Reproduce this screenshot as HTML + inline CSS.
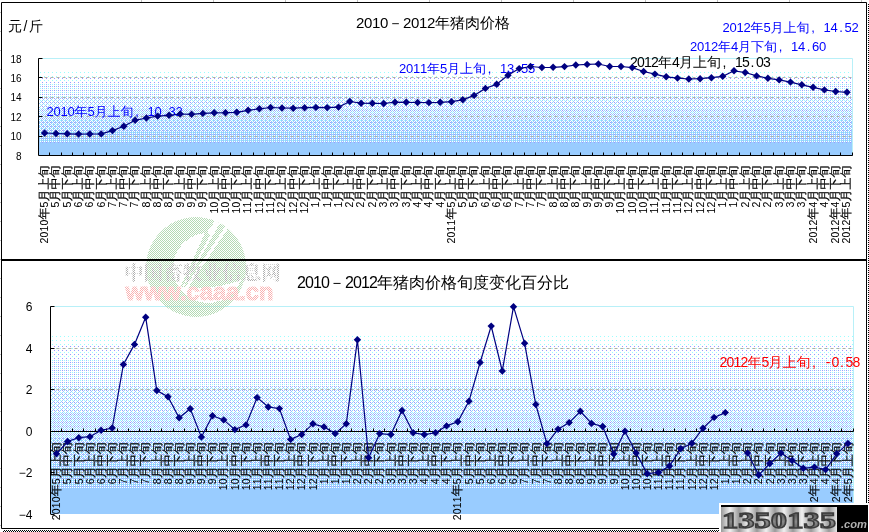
<!DOCTYPE html>
<html lang="zh"><head><meta charset="utf-8"><title>2010-2012年猪肉价格</title>
<style>html,body{margin:0;padding:0;background:#fff}svg{display:block}</style></head>
<body>
<svg width="869" height="532" viewBox="0 0 869 532" font-family='"Liberation Sans","WenQuanYi Zen Hei","Noto Sans CJK SC",sans-serif'>
<defs>
<pattern id="dz" width="2" height="2" patternUnits="userSpaceOnUse"><rect width="1" height="1" fill="#000"/><rect x="1" y="1" width="1" height="1" fill="#000"/></pattern>
<pattern id="b0" width="4" height="4" patternUnits="userSpaceOnUse"><rect x="0" y="0" width="1" height="1" fill="#99ccff"/><rect x="2" y="2" width="1" height="1" fill="#99ccff"/></pattern>
<pattern id="b1" width="4" height="4" patternUnits="userSpaceOnUse"><rect x="2" y="0" width="1" height="1" fill="#99ccff"/><rect x="0" y="2" width="1" height="1" fill="#99ccff"/></pattern>
<pattern id="b2" width="4" height="4" patternUnits="userSpaceOnUse"><rect x="1" y="1" width="1" height="1" fill="#99ccff"/><rect x="3" y="3" width="1" height="1" fill="#99ccff"/></pattern>
<pattern id="b3" width="4" height="4" patternUnits="userSpaceOnUse"><rect x="3" y="1" width="1" height="1" fill="#99ccff"/><rect x="1" y="3" width="1" height="1" fill="#99ccff"/></pattern>
<pattern id="b4" width="4" height="4" patternUnits="userSpaceOnUse"><rect x="1" y="0" width="1" height="1" fill="#99ccff"/><rect x="3" y="2" width="1" height="1" fill="#99ccff"/></pattern>
<pattern id="b5" width="4" height="4" patternUnits="userSpaceOnUse"><rect x="3" y="0" width="1" height="1" fill="#99ccff"/><rect x="1" y="2" width="1" height="1" fill="#99ccff"/></pattern>
<pattern id="b6" width="4" height="4" patternUnits="userSpaceOnUse"><rect x="0" y="1" width="1" height="1" fill="#99ccff"/><rect x="2" y="3" width="1" height="1" fill="#99ccff"/></pattern>
<pattern id="b7" width="4" height="4" patternUnits="userSpaceOnUse"><rect x="2" y="1" width="1" height="1" fill="#99ccff"/><rect x="0" y="3" width="1" height="1" fill="#99ccff"/></pattern>
<pattern id="b0a" width="4" height="4" patternUnits="userSpaceOnUse"><rect x="0" y="0" width="1" height="1" fill="#99ffff"/></pattern>
<pattern id="b0b" width="4" height="4" patternUnits="userSpaceOnUse"><rect x="2" y="2" width="1" height="1" fill="#9999ff"/></pattern>
<path id="mk" d="M0,-3.7 L3.7,0 L0,3.7 L-3.7,0 Z" fill="#000080"/>
</defs>
<rect width="869" height="532" fill="#fff"/>
<path d="M141.5 0v2M213.5 0v2M285.5 0v2M357.5 0v2M429.5 0v2M501.5 0v2M573.5 0v2M645.5 0v2M717.5 0v2M789.5 0v2M861.5 0v2M0 12.5h1M0 31.5h1M0 50.5h1M0 69.5h1M0 88.5h1M0 107.5h1M0 126.5h1M0 145.5h1M0 164.5h1M0 183.5h1M0 202.5h1M0 221.5h1M0 240.5h1M0 259.5h1M0 278.5h1M0 297.5h1M0 316.5h1M0 335.5h1M0 354.5h1M0 373.5h1M0 392.5h1M0 411.5h1M0 430.5h1M0 449.5h1M0 468.5h1M0 487.5h1M0 506.5h1M0 525.5h1" stroke="#c0c0c0" stroke-width="1" fill="none"/>
<g shape-rendering="crispEdges">
<rect x="39" y="59" width="814" height="97" fill="#fff"/>
<rect x="39" y="72" width="814" height="84" fill="url(#b0a)"/>
<rect x="39" y="77" width="814" height="79" fill="url(#b0b)"/>
<rect x="39" y="84" width="814" height="72" fill="url(#b1)"/>
<rect x="39" y="96" width="814" height="60" fill="url(#b2)"/>
<rect x="39" y="108" width="814" height="48" fill="url(#b3)"/>
<rect x="39" y="120" width="814" height="36" fill="url(#b4)"/>
<rect x="39" y="132" width="814" height="24" fill="url(#b5)"/>
<rect x="39" y="144" width="814" height="12" fill="url(#b6)"/>
<rect x="39" y="143" width="814" height="13" fill="#99ccff"/>
</g>
<line x1="38.5" x2="852.5" y1="136.5" y2="136.5" stroke="#b0b0a8" stroke-width="1" stroke-dasharray="3 3"/>
<line x1="38.5" x2="852.5" y1="116.5" y2="116.5" stroke="#b0b0a8" stroke-width="1" stroke-dasharray="3 3"/>
<line x1="38.5" x2="852.5" y1="97.5" y2="97.5" stroke="#b0b0a8" stroke-width="1" stroke-dasharray="3 3"/>
<line x1="38.5" x2="852.5" y1="77.5" y2="77.5" stroke="#b0b0a8" stroke-width="1" stroke-dasharray="3 3"/>
<path d="M38.5 58.5 H852.5 V155.5" fill="none" stroke="#b8f0f8" stroke-width="1"/>
<path d="M38.5 58.5 V155.5 H852.5" fill="none" stroke="#000" stroke-width="1"/>
<line x1="38.5" x2="42.5" y1="136.5" y2="136.5" stroke="#000"/>
<line x1="38.5" x2="42.5" y1="116.5" y2="116.5" stroke="#000"/>
<line x1="38.5" x2="42.5" y1="97.5" y2="97.5" stroke="#000"/>
<line x1="38.5" x2="42.5" y1="77.5" y2="77.5" stroke="#000"/>
<line x1="38.5" x2="42.5" y1="58.5" y2="58.5" stroke="#000"/>
<path d="M49.5 155.5v-3M61.5 155.5v-3M72.5 155.5v-3M83.5 155.5v-3M95.5 155.5v-3M106.5 155.5v-3M117.5 155.5v-3M128.5 155.5v-3M140.5 155.5v-3M151.5 155.5v-3M162.5 155.5v-3M174.5 155.5v-3M185.5 155.5v-3M196.5 155.5v-3M208.5 155.5v-3M219.5 155.5v-3M230.5 155.5v-3M241.5 155.5v-3M253.5 155.5v-3M264.5 155.5v-3M275.5 155.5v-3M287.5 155.5v-3M298.5 155.5v-3M309.5 155.5v-3M321.5 155.5v-3M332.5 155.5v-3M343.5 155.5v-3M354.5 155.5v-3M366.5 155.5v-3M377.5 155.5v-3M388.5 155.5v-3M400.5 155.5v-3M411.5 155.5v-3M422.5 155.5v-3M434.5 155.5v-3M445.5 155.5v-3M456.5 155.5v-3M467.5 155.5v-3M479.5 155.5v-3M490.5 155.5v-3M501.5 155.5v-3M513.5 155.5v-3M524.5 155.5v-3M535.5 155.5v-3M547.5 155.5v-3M558.5 155.5v-3M569.5 155.5v-3M580.5 155.5v-3M592.5 155.5v-3M603.5 155.5v-3M614.5 155.5v-3M626.5 155.5v-3M637.5 155.5v-3M648.5 155.5v-3M660.5 155.5v-3M671.5 155.5v-3M682.5 155.5v-3M693.5 155.5v-3M705.5 155.5v-3M716.5 155.5v-3M727.5 155.5v-3M739.5 155.5v-3M750.5 155.5v-3M761.5 155.5v-3M773.5 155.5v-3M784.5 155.5v-3M795.5 155.5v-3M806.5 155.5v-3M818.5 155.5v-3M829.5 155.5v-3M840.5 155.5v-3M852.5 155.5v-3" stroke="#000" stroke-width="1" fill="none"/>
<text x="21.6" y="159.5" font-size="10" text-anchor="end">8</text>
<text x="21.6" y="140.1" font-size="10" text-anchor="end">10</text>
<text x="21.6" y="120.7" font-size="10" text-anchor="end">12</text>
<text x="21.6" y="101.3" font-size="10" text-anchor="end">14</text>
<text x="21.6" y="81.9" font-size="10" text-anchor="end">16</text>
<text x="21.6" y="62.5" font-size="10" text-anchor="end">18</text>
<text transform="translate(43.9 165.4) rotate(-90)" x="-78 -72 -66 -60 -54 -42 -36 -24 -12" y="4.2" font-size="12" stroke="#000" stroke-width="0.2"><tspan font-size="10.5" stroke-width="0.05">2010</tspan>年<tspan font-size="10.5" stroke-width="0.05">5</tspan>月上旬</text>
<text transform="translate(55.2 165.4) rotate(-90)" x="-42 -36 -24 -12" y="4.2" font-size="12" stroke="#000" stroke-width="0.2"><tspan font-size="10.5" stroke-width="0.05">5</tspan>月中旬</text>
<text transform="translate(66.5 165.4) rotate(-90)" x="-42 -36 -24 -12" y="4.2" font-size="12" stroke="#000" stroke-width="0.2"><tspan font-size="10.5" stroke-width="0.05">5</tspan>月下旬</text>
<text transform="translate(77.8 165.4) rotate(-90)" x="-42 -36 -24 -12" y="4.2" font-size="12" stroke="#000" stroke-width="0.2"><tspan font-size="10.5" stroke-width="0.05">6</tspan>月上旬</text>
<text transform="translate(89.1 165.4) rotate(-90)" x="-42 -36 -24 -12" y="4.2" font-size="12" stroke="#000" stroke-width="0.2"><tspan font-size="10.5" stroke-width="0.05">6</tspan>月中旬</text>
<text transform="translate(100.4 165.4) rotate(-90)" x="-42 -36 -24 -12" y="4.2" font-size="12" stroke="#000" stroke-width="0.2"><tspan font-size="10.5" stroke-width="0.05">6</tspan>月下旬</text>
<text transform="translate(111.7 165.4) rotate(-90)" x="-42 -36 -24 -12" y="4.2" font-size="12" stroke="#000" stroke-width="0.2"><tspan font-size="10.5" stroke-width="0.05">7</tspan>月上旬</text>
<text transform="translate(123.0 165.4) rotate(-90)" x="-42 -36 -24 -12" y="4.2" font-size="12" stroke="#000" stroke-width="0.2"><tspan font-size="10.5" stroke-width="0.05">7</tspan>月中旬</text>
<text transform="translate(134.2 165.4) rotate(-90)" x="-42 -36 -24 -12" y="4.2" font-size="12" stroke="#000" stroke-width="0.2"><tspan font-size="10.5" stroke-width="0.05">7</tspan>月下旬</text>
<text transform="translate(145.6 165.4) rotate(-90)" x="-42 -36 -24 -12" y="4.2" font-size="12" stroke="#000" stroke-width="0.2"><tspan font-size="10.5" stroke-width="0.05">8</tspan>月上旬</text>
<text transform="translate(156.9 165.4) rotate(-90)" x="-42 -36 -24 -12" y="4.2" font-size="12" stroke="#000" stroke-width="0.2"><tspan font-size="10.5" stroke-width="0.05">8</tspan>月中旬</text>
<text transform="translate(168.2 165.4) rotate(-90)" x="-42 -36 -24 -12" y="4.2" font-size="12" stroke="#000" stroke-width="0.2"><tspan font-size="10.5" stroke-width="0.05">8</tspan>月下旬</text>
<text transform="translate(179.4 165.4) rotate(-90)" x="-42 -36 -24 -12" y="4.2" font-size="12" stroke="#000" stroke-width="0.2"><tspan font-size="10.5" stroke-width="0.05">9</tspan>月上旬</text>
<text transform="translate(190.8 165.4) rotate(-90)" x="-42 -36 -24 -12" y="4.2" font-size="12" stroke="#000" stroke-width="0.2"><tspan font-size="10.5" stroke-width="0.05">9</tspan>月中旬</text>
<text transform="translate(202.1 165.4) rotate(-90)" x="-42 -36 -24 -12" y="4.2" font-size="12" stroke="#000" stroke-width="0.2"><tspan font-size="10.5" stroke-width="0.05">9</tspan>月下旬</text>
<text transform="translate(213.4 165.4) rotate(-90)" x="-48 -42 -36 -24 -12" y="4.2" font-size="12" stroke="#000" stroke-width="0.2"><tspan font-size="10.5" stroke-width="0.05">10</tspan>月上旬</text>
<text transform="translate(224.7 165.4) rotate(-90)" x="-48 -42 -36 -24 -12" y="4.2" font-size="12" stroke="#000" stroke-width="0.2"><tspan font-size="10.5" stroke-width="0.05">10</tspan>月中旬</text>
<text transform="translate(235.9 165.4) rotate(-90)" x="-48 -42 -36 -24 -12" y="4.2" font-size="12" stroke="#000" stroke-width="0.2"><tspan font-size="10.5" stroke-width="0.05">10</tspan>月下旬</text>
<text transform="translate(247.2 165.4) rotate(-90)" x="-48 -42 -36 -24 -12" y="4.2" font-size="12" stroke="#000" stroke-width="0.2"><tspan font-size="10.5" stroke-width="0.05">11</tspan>月上旬</text>
<text transform="translate(258.6 165.4) rotate(-90)" x="-48 -42 -36 -24 -12" y="4.2" font-size="12" stroke="#000" stroke-width="0.2"><tspan font-size="10.5" stroke-width="0.05">11</tspan>月中旬</text>
<text transform="translate(269.9 165.4) rotate(-90)" x="-48 -42 -36 -24 -12" y="4.2" font-size="12" stroke="#000" stroke-width="0.2"><tspan font-size="10.5" stroke-width="0.05">11</tspan>月下旬</text>
<text transform="translate(281.2 165.4) rotate(-90)" x="-48 -42 -36 -24 -12" y="4.2" font-size="12" stroke="#000" stroke-width="0.2"><tspan font-size="10.5" stroke-width="0.05">12</tspan>月上旬</text>
<text transform="translate(292.5 165.4) rotate(-90)" x="-48 -42 -36 -24 -12" y="4.2" font-size="12" stroke="#000" stroke-width="0.2"><tspan font-size="10.5" stroke-width="0.05">12</tspan>月中旬</text>
<text transform="translate(303.8 165.4) rotate(-90)" x="-48 -42 -36 -24 -12" y="4.2" font-size="12" stroke="#000" stroke-width="0.2"><tspan font-size="10.5" stroke-width="0.05">12</tspan>月下旬</text>
<text transform="translate(315.1 165.4) rotate(-90)" x="-42 -36 -24 -12" y="4.2" font-size="12" stroke="#000" stroke-width="0.2"><tspan font-size="10.5" stroke-width="0.05">1</tspan>月上旬</text>
<text transform="translate(326.4 165.4) rotate(-90)" x="-42 -36 -24 -12" y="4.2" font-size="12" stroke="#000" stroke-width="0.2"><tspan font-size="10.5" stroke-width="0.05">1</tspan>月中旬</text>
<text transform="translate(337.7 165.4) rotate(-90)" x="-42 -36 -24 -12" y="4.2" font-size="12" stroke="#000" stroke-width="0.2"><tspan font-size="10.5" stroke-width="0.05">1</tspan>月下旬</text>
<text transform="translate(348.9 165.4) rotate(-90)" x="-42 -36 -24 -12" y="4.2" font-size="12" stroke="#000" stroke-width="0.2"><tspan font-size="10.5" stroke-width="0.05">2</tspan>月上旬</text>
<text transform="translate(360.2 165.4) rotate(-90)" x="-42 -36 -24 -12" y="4.2" font-size="12" stroke="#000" stroke-width="0.2"><tspan font-size="10.5" stroke-width="0.05">2</tspan>月中旬</text>
<text transform="translate(371.6 165.4) rotate(-90)" x="-42 -36 -24 -12" y="4.2" font-size="12" stroke="#000" stroke-width="0.2"><tspan font-size="10.5" stroke-width="0.05">2</tspan>月下旬</text>
<text transform="translate(382.9 165.4) rotate(-90)" x="-42 -36 -24 -12" y="4.2" font-size="12" stroke="#000" stroke-width="0.2"><tspan font-size="10.5" stroke-width="0.05">3</tspan>月上旬</text>
<text transform="translate(394.2 165.4) rotate(-90)" x="-42 -36 -24 -12" y="4.2" font-size="12" stroke="#000" stroke-width="0.2"><tspan font-size="10.5" stroke-width="0.05">3</tspan>月中旬</text>
<text transform="translate(405.4 165.4) rotate(-90)" x="-42 -36 -24 -12" y="4.2" font-size="12" stroke="#000" stroke-width="0.2"><tspan font-size="10.5" stroke-width="0.05">3</tspan>月下旬</text>
<text transform="translate(416.8 165.4) rotate(-90)" x="-42 -36 -24 -12" y="4.2" font-size="12" stroke="#000" stroke-width="0.2"><tspan font-size="10.5" stroke-width="0.05">4</tspan>月上旬</text>
<text transform="translate(428.1 165.4) rotate(-90)" x="-42 -36 -24 -12" y="4.2" font-size="12" stroke="#000" stroke-width="0.2"><tspan font-size="10.5" stroke-width="0.05">4</tspan>月中旬</text>
<text transform="translate(439.4 165.4) rotate(-90)" x="-42 -36 -24 -12" y="4.2" font-size="12" stroke="#000" stroke-width="0.2"><tspan font-size="10.5" stroke-width="0.05">4</tspan>月下旬</text>
<text transform="translate(450.7 165.4) rotate(-90)" x="-78 -72 -66 -60 -54 -42 -36 -24 -12" y="4.2" font-size="12" stroke="#000" stroke-width="0.2"><tspan font-size="10.5" stroke-width="0.05">2011</tspan>年<tspan font-size="10.5" stroke-width="0.05">5</tspan>月上旬</text>
<text transform="translate(461.9 165.4) rotate(-90)" x="-42 -36 -24 -12" y="4.2" font-size="12" stroke="#000" stroke-width="0.2"><tspan font-size="10.5" stroke-width="0.05">5</tspan>月中旬</text>
<text transform="translate(473.2 165.4) rotate(-90)" x="-42 -36 -24 -12" y="4.2" font-size="12" stroke="#000" stroke-width="0.2"><tspan font-size="10.5" stroke-width="0.05">5</tspan>月下旬</text>
<text transform="translate(484.6 165.4) rotate(-90)" x="-42 -36 -24 -12" y="4.2" font-size="12" stroke="#000" stroke-width="0.2"><tspan font-size="10.5" stroke-width="0.05">6</tspan>月上旬</text>
<text transform="translate(495.9 165.4) rotate(-90)" x="-42 -36 -24 -12" y="4.2" font-size="12" stroke="#000" stroke-width="0.2"><tspan font-size="10.5" stroke-width="0.05">6</tspan>月中旬</text>
<text transform="translate(507.2 165.4) rotate(-90)" x="-42 -36 -24 -12" y="4.2" font-size="12" stroke="#000" stroke-width="0.2"><tspan font-size="10.5" stroke-width="0.05">6</tspan>月下旬</text>
<text transform="translate(518.5 165.4) rotate(-90)" x="-42 -36 -24 -12" y="4.2" font-size="12" stroke="#000" stroke-width="0.2"><tspan font-size="10.5" stroke-width="0.05">7</tspan>月上旬</text>
<text transform="translate(529.8 165.4) rotate(-90)" x="-42 -36 -24 -12" y="4.2" font-size="12" stroke="#000" stroke-width="0.2"><tspan font-size="10.5" stroke-width="0.05">7</tspan>月中旬</text>
<text transform="translate(541.1 165.4) rotate(-90)" x="-42 -36 -24 -12" y="4.2" font-size="12" stroke="#000" stroke-width="0.2"><tspan font-size="10.5" stroke-width="0.05">7</tspan>月下旬</text>
<text transform="translate(552.4 165.4) rotate(-90)" x="-42 -36 -24 -12" y="4.2" font-size="12" stroke="#000" stroke-width="0.2"><tspan font-size="10.5" stroke-width="0.05">8</tspan>月上旬</text>
<text transform="translate(563.7 165.4) rotate(-90)" x="-42 -36 -24 -12" y="4.2" font-size="12" stroke="#000" stroke-width="0.2"><tspan font-size="10.5" stroke-width="0.05">8</tspan>月中旬</text>
<text transform="translate(575.0 165.4) rotate(-90)" x="-42 -36 -24 -12" y="4.2" font-size="12" stroke="#000" stroke-width="0.2"><tspan font-size="10.5" stroke-width="0.05">8</tspan>月下旬</text>
<text transform="translate(586.3 165.4) rotate(-90)" x="-42 -36 -24 -12" y="4.2" font-size="12" stroke="#000" stroke-width="0.2"><tspan font-size="10.5" stroke-width="0.05">9</tspan>月上旬</text>
<text transform="translate(597.6 165.4) rotate(-90)" x="-42 -36 -24 -12" y="4.2" font-size="12" stroke="#000" stroke-width="0.2"><tspan font-size="10.5" stroke-width="0.05">9</tspan>月中旬</text>
<text transform="translate(608.9 165.4) rotate(-90)" x="-42 -36 -24 -12" y="4.2" font-size="12" stroke="#000" stroke-width="0.2"><tspan font-size="10.5" stroke-width="0.05">9</tspan>月下旬</text>
<text transform="translate(620.2 165.4) rotate(-90)" x="-48 -42 -36 -24 -12" y="4.2" font-size="12" stroke="#000" stroke-width="0.2"><tspan font-size="10.5" stroke-width="0.05">10</tspan>月上旬</text>
<text transform="translate(631.5 165.4) rotate(-90)" x="-48 -42 -36 -24 -12" y="4.2" font-size="12" stroke="#000" stroke-width="0.2"><tspan font-size="10.5" stroke-width="0.05">10</tspan>月中旬</text>
<text transform="translate(642.8 165.4) rotate(-90)" x="-48 -42 -36 -24 -12" y="4.2" font-size="12" stroke="#000" stroke-width="0.2"><tspan font-size="10.5" stroke-width="0.05">10</tspan>月下旬</text>
<text transform="translate(654.1 165.4) rotate(-90)" x="-48 -42 -36 -24 -12" y="4.2" font-size="12" stroke="#000" stroke-width="0.2"><tspan font-size="10.5" stroke-width="0.05">11</tspan>月上旬</text>
<text transform="translate(665.4 165.4) rotate(-90)" x="-48 -42 -36 -24 -12" y="4.2" font-size="12" stroke="#000" stroke-width="0.2"><tspan font-size="10.5" stroke-width="0.05">11</tspan>月中旬</text>
<text transform="translate(676.7 165.4) rotate(-90)" x="-48 -42 -36 -24 -12" y="4.2" font-size="12" stroke="#000" stroke-width="0.2"><tspan font-size="10.5" stroke-width="0.05">11</tspan>月下旬</text>
<text transform="translate(688.0 165.4) rotate(-90)" x="-48 -42 -36 -24 -12" y="4.2" font-size="12" stroke="#000" stroke-width="0.2"><tspan font-size="10.5" stroke-width="0.05">12</tspan>月上旬</text>
<text transform="translate(699.3 165.4) rotate(-90)" x="-48 -42 -36 -24 -12" y="4.2" font-size="12" stroke="#000" stroke-width="0.2"><tspan font-size="10.5" stroke-width="0.05">12</tspan>月中旬</text>
<text transform="translate(710.6 165.4) rotate(-90)" x="-48 -42 -36 -24 -12" y="4.2" font-size="12" stroke="#000" stroke-width="0.2"><tspan font-size="10.5" stroke-width="0.05">12</tspan>月下旬</text>
<text transform="translate(721.9 165.4) rotate(-90)" x="-42 -36 -24 -12" y="4.2" font-size="12" stroke="#000" stroke-width="0.2"><tspan font-size="10.5" stroke-width="0.05">1</tspan>月上旬</text>
<text transform="translate(733.2 165.4) rotate(-90)" x="-42 -36 -24 -12" y="4.2" font-size="12" stroke="#000" stroke-width="0.2"><tspan font-size="10.5" stroke-width="0.05">1</tspan>月中旬</text>
<text transform="translate(744.5 165.4) rotate(-90)" x="-42 -36 -24 -12" y="4.2" font-size="12" stroke="#000" stroke-width="0.2"><tspan font-size="10.5" stroke-width="0.05">2</tspan>月上旬</text>
<text transform="translate(755.8 165.4) rotate(-90)" x="-42 -36 -24 -12" y="4.2" font-size="12" stroke="#000" stroke-width="0.2"><tspan font-size="10.5" stroke-width="0.05">2</tspan>月中旬</text>
<text transform="translate(767.1 165.4) rotate(-90)" x="-42 -36 -24 -12" y="4.2" font-size="12" stroke="#000" stroke-width="0.2"><tspan font-size="10.5" stroke-width="0.05">2</tspan>月下旬</text>
<text transform="translate(778.4 165.4) rotate(-90)" x="-42 -36 -24 -12" y="4.2" font-size="12" stroke="#000" stroke-width="0.2"><tspan font-size="10.5" stroke-width="0.05">3</tspan>月上旬</text>
<text transform="translate(789.7 165.4) rotate(-90)" x="-42 -36 -24 -12" y="4.2" font-size="12" stroke="#000" stroke-width="0.2"><tspan font-size="10.5" stroke-width="0.05">3</tspan>月中旬</text>
<text transform="translate(801.0 165.4) rotate(-90)" x="-42 -36 -24 -12" y="4.2" font-size="12" stroke="#000" stroke-width="0.2"><tspan font-size="10.5" stroke-width="0.05">3</tspan>月下旬</text>
<text transform="translate(812.3 165.4) rotate(-90)" x="-78 -72 -66 -60 -54 -42 -36 -24 -12" y="4.2" font-size="12" stroke="#000" stroke-width="0.2"><tspan font-size="10.5" stroke-width="0.05">2012</tspan>年<tspan font-size="10.5" stroke-width="0.05">4</tspan>月上旬</text>
<text transform="translate(823.6 165.4) rotate(-90)" x="-42 -36 -24 -12" y="4.2" font-size="12" stroke="#000" stroke-width="0.2"><tspan font-size="10.5" stroke-width="0.05">4</tspan>月中旬</text>
<text transform="translate(834.9 165.4) rotate(-90)" x="-78 -72 -66 -60 -54 -42 -36 -24 -12" y="4.2" font-size="12" stroke="#000" stroke-width="0.2"><tspan font-size="10.5" stroke-width="0.05">2012</tspan>年<tspan font-size="10.5" stroke-width="0.05">4</tspan>月下旬</text>
<text transform="translate(846.2 165.4) rotate(-90)" x="-78 -72 -66 -60 -54 -42 -36 -24 -12" y="4.2" font-size="12" stroke="#000" stroke-width="0.2"><tspan font-size="10.5" stroke-width="0.05">2012</tspan>年<tspan font-size="10.5" stroke-width="0.05">5</tspan>月上旬</text>
<text x="8.0 23.6 29.0" y="31.0" font-size="14" fill="#000">元/斤</text>
<text x="356.0 364.0 372.0 380.0 388.0 403.0 411.0 419.0 427.0 435.0 450.0 465.0 480.0 495.0" y="28.0" font-size="15" fill="#000">2010－2012年猪肉价格</text>
<text x="46.5 53.5 60.5 67.5 74.5 87.5 94.5 107.5 120.5 135.2 142.2 147.5 154.5 163.2 168.5 175.5" y="115.5" font-size="13" fill="#0000ff">2010年5月上旬, 10.32</text>
<text x="399.0 406.0 413.0 420.0 427.0 440.0 447.0 460.0 473.0 487.7 494.7 500.0 507.0 515.7 521.0 528.0" y="72.5" font-size="13" fill="#0000ff">2011年5月上旬, 13.55</text>
<text x="630.0 637.0 644.0 651.0 658.0 672.0 679.0 693.0 707.0 722.6 729.6 735.0 742.0 750.6 756.0 763.0" y="67.0" font-size="14" fill="#000">2012年4月上旬, 15.03</text>
<text x="690.0 697.0 704.0 711.0 718.0 731.0 738.0 751.0 764.0 778.7 785.7 791.0 798.0 806.7 812.0 819.0" y="50.5" font-size="13" fill="#0000ff">2012年4月下旬, 14.60</text>
<text x="722.5 729.5 736.5 743.5 750.5 763.5 770.5 783.5 796.5 811.2 818.2 823.5 830.5 839.2 844.5 851.5" y="31.8" font-size="13" fill="#0000ff">2012年5月上旬, 14.52</text>
<polyline fill="none" stroke="#000080" stroke-width="1.2" points="44.6,133.0 56.0,133.5 67.2,133.8 78.6,134.1 89.8,134.0 101.2,133.9 112.5,130.6 123.8,126.2 135.1,120.3 146.4,118.0 157.7,116.1 169.0,115.3 180.2,114.0 191.6,114.3 202.9,113.4 214.2,112.8 225.5,112.7 236.8,112.3 248.1,110.3 259.4,108.8 270.6,107.5 282.0,108.0 293.2,108.2 304.6,107.7 315.9,107.4 327.2,107.6 338.5,107.1 349.8,101.5 361.1,103.2 372.4,103.3 383.7,103.5 395.0,102.2 406.2,102.3 417.6,102.5 428.9,102.6 440.2,102.3 451.5,101.7 462.8,99.8 474.1,95.4 485.4,88.4 496.7,84.2 508.0,75.3 519.2,68.6 530.5,66.5 541.9,67.5 553.1,67.3 564.5,66.6 575.8,65.0 587.1,64.4 598.4,64.0 609.7,66.5 621.0,66.5 632.2,67.6 643.6,71.5 654.9,74.1 666.2,76.8 677.5,78.1 688.8,79.0 700.1,78.7 711.4,77.7 722.7,76.3 734.0,70.8 745.2,72.5 756.6,75.9 767.9,78.3 779.2,79.9 790.5,82.1 801.8,84.8 813.1,87.3 824.4,89.9 835.7,91.5 847.0,92.3"/>
<use href="#mk" x="44.6" y="133.0"/>
<use href="#mk" x="56.0" y="133.5"/>
<use href="#mk" x="67.2" y="133.8"/>
<use href="#mk" x="78.6" y="134.1"/>
<use href="#mk" x="89.8" y="134.0"/>
<use href="#mk" x="101.2" y="133.9"/>
<use href="#mk" x="112.5" y="130.6"/>
<use href="#mk" x="123.8" y="126.2"/>
<use href="#mk" x="135.1" y="120.3"/>
<use href="#mk" x="146.4" y="118.0"/>
<use href="#mk" x="157.7" y="116.1"/>
<use href="#mk" x="169.0" y="115.3"/>
<use href="#mk" x="180.2" y="114.0"/>
<use href="#mk" x="191.6" y="114.3"/>
<use href="#mk" x="202.9" y="113.4"/>
<use href="#mk" x="214.2" y="112.8"/>
<use href="#mk" x="225.5" y="112.7"/>
<use href="#mk" x="236.8" y="112.3"/>
<use href="#mk" x="248.1" y="110.3"/>
<use href="#mk" x="259.4" y="108.8"/>
<use href="#mk" x="270.6" y="107.5"/>
<use href="#mk" x="282.0" y="108.0"/>
<use href="#mk" x="293.2" y="108.2"/>
<use href="#mk" x="304.6" y="107.7"/>
<use href="#mk" x="315.9" y="107.4"/>
<use href="#mk" x="327.2" y="107.6"/>
<use href="#mk" x="338.5" y="107.1"/>
<use href="#mk" x="349.8" y="101.5"/>
<use href="#mk" x="361.1" y="103.2"/>
<use href="#mk" x="372.4" y="103.3"/>
<use href="#mk" x="383.7" y="103.5"/>
<use href="#mk" x="395.0" y="102.2"/>
<use href="#mk" x="406.2" y="102.3"/>
<use href="#mk" x="417.6" y="102.5"/>
<use href="#mk" x="428.9" y="102.6"/>
<use href="#mk" x="440.2" y="102.3"/>
<use href="#mk" x="451.5" y="101.7"/>
<use href="#mk" x="462.8" y="99.8"/>
<use href="#mk" x="474.1" y="95.4"/>
<use href="#mk" x="485.4" y="88.4"/>
<use href="#mk" x="496.7" y="84.2"/>
<use href="#mk" x="508.0" y="75.3"/>
<use href="#mk" x="519.2" y="68.6"/>
<use href="#mk" x="530.5" y="66.5"/>
<use href="#mk" x="541.9" y="67.5"/>
<use href="#mk" x="553.1" y="67.3"/>
<use href="#mk" x="564.5" y="66.6"/>
<use href="#mk" x="575.8" y="65.0"/>
<use href="#mk" x="587.1" y="64.4"/>
<use href="#mk" x="598.4" y="64.0"/>
<use href="#mk" x="609.7" y="66.5"/>
<use href="#mk" x="621.0" y="66.5"/>
<use href="#mk" x="632.2" y="67.6"/>
<use href="#mk" x="643.6" y="71.5"/>
<use href="#mk" x="654.9" y="74.1"/>
<use href="#mk" x="666.2" y="76.8"/>
<use href="#mk" x="677.5" y="78.1"/>
<use href="#mk" x="688.8" y="79.0"/>
<use href="#mk" x="700.1" y="78.7"/>
<use href="#mk" x="711.4" y="77.7"/>
<use href="#mk" x="722.7" y="76.3"/>
<use href="#mk" x="734.0" y="70.8"/>
<use href="#mk" x="745.2" y="72.5"/>
<use href="#mk" x="756.6" y="75.9"/>
<use href="#mk" x="767.9" y="78.3"/>
<use href="#mk" x="779.2" y="79.9"/>
<use href="#mk" x="790.5" y="82.1"/>
<use href="#mk" x="801.8" y="84.8"/>
<use href="#mk" x="813.1" y="87.3"/>
<use href="#mk" x="824.4" y="89.9"/>
<use href="#mk" x="835.7" y="91.5"/>
<use href="#mk" x="847.0" y="92.3"/>
<g shape-rendering="crispEdges">
<rect x="51" y="307" width="803" height="207" fill="#fff"/>
<rect x="51" y="336" width="803" height="178" fill="url(#b0a)"/>
<rect x="51" y="346" width="803" height="168" fill="url(#b0b)"/>
<rect x="51" y="360" width="803" height="154" fill="url(#b1)"/>
<rect x="51" y="386" width="803" height="128" fill="url(#b2)"/>
<rect x="51" y="412" width="803" height="102" fill="url(#b3)"/>
<rect x="51" y="438" width="803" height="76" fill="url(#b4)"/>
<rect x="51" y="464" width="803" height="50" fill="url(#b5)"/>
<rect x="51" y="490" width="803" height="24" fill="url(#b6)"/>
<rect x="51" y="488" width="803" height="26" fill="#99ccff"/>
</g>
<line x1="50.5" x2="853.5" y1="472.5" y2="472.5" stroke="#b0b0a8" stroke-width="1" stroke-dasharray="3 3"/>
<line x1="50.5" x2="853.5" y1="389.5" y2="389.5" stroke="#b0b0a8" stroke-width="1" stroke-dasharray="3 3"/>
<line x1="50.5" x2="853.5" y1="348.5" y2="348.5" stroke="#b0b0a8" stroke-width="1" stroke-dasharray="3 3"/>
<path d="M50.5 306.5 H853.5 V514.0" fill="none" stroke="#b8f0f8" stroke-width="1"/>
<path d="M50.5 306.5 V514.0" fill="none" stroke="#000" stroke-width="1"/>
<line x1="50.5" x2="54.5" y1="514.5" y2="514.5" stroke="#000"/>
<line x1="50.5" x2="54.5" y1="472.5" y2="472.5" stroke="#000"/>
<line x1="50.5" x2="54.5" y1="389.5" y2="389.5" stroke="#000"/>
<line x1="50.5" x2="54.5" y1="348.5" y2="348.5" stroke="#000"/>
<line x1="50.5" x2="54.5" y1="306.5" y2="306.5" stroke="#000"/>
<line x1="50.5" x2="853.5" y1="431.5" y2="431.5" stroke="#000"/>
<path d="M61.5 431.5v-3M72.5 431.5v-3M83.5 431.5v-3M95.5 431.5v-3M106.5 431.5v-3M117.5 431.5v-3M128.5 431.5v-3M139.5 431.5v-3M150.5 431.5v-3M161.5 431.5v-3M173.5 431.5v-3M184.5 431.5v-3M195.5 431.5v-3M206.5 431.5v-3M217.5 431.5v-3M228.5 431.5v-3M239.5 431.5v-3M251.5 431.5v-3M262.5 431.5v-3M273.5 431.5v-3M284.5 431.5v-3M295.5 431.5v-3M306.5 431.5v-3M318.5 431.5v-3M329.5 431.5v-3M340.5 431.5v-3M351.5 431.5v-3M362.5 431.5v-3M373.5 431.5v-3M384.5 431.5v-3M396.5 431.5v-3M407.5 431.5v-3M418.5 431.5v-3M429.5 431.5v-3M440.5 431.5v-3M451.5 431.5v-3M462.5 431.5v-3M474.5 431.5v-3M485.5 431.5v-3M496.5 431.5v-3M507.5 431.5v-3M518.5 431.5v-3M529.5 431.5v-3M540.5 431.5v-3M552.5 431.5v-3M563.5 431.5v-3M574.5 431.5v-3M585.5 431.5v-3M596.5 431.5v-3M607.5 431.5v-3M618.5 431.5v-3M630.5 431.5v-3M641.5 431.5v-3M652.5 431.5v-3M663.5 431.5v-3M674.5 431.5v-3M685.5 431.5v-3M696.5 431.5v-3M708.5 431.5v-3M719.5 431.5v-3M730.5 431.5v-3M741.5 431.5v-3M752.5 431.5v-3M763.5 431.5v-3M774.5 431.5v-3M786.5 431.5v-3M797.5 431.5v-3M808.5 431.5v-3M819.5 431.5v-3M830.5 431.5v-3M841.5 431.5v-3M853.5 431.5v-3" stroke="#000" stroke-width="1" fill="none"/>
<text x="32.5" y="519.0" font-size="12" text-anchor="end">−4</text>
<text x="32.5" y="477.4" font-size="12" text-anchor="end">−2</text>
<text x="32.5" y="435.8" font-size="12" text-anchor="end">0</text>
<text x="32.5" y="394.2" font-size="12" text-anchor="end">2</text>
<text x="32.5" y="352.6" font-size="12" text-anchor="end">4</text>
<text x="32.5" y="311.0" font-size="12" text-anchor="end">6</text>
<text transform="translate(56.0 442.2) rotate(-90)" x="-78 -72 -66 -60 -54 -42 -36 -24 -12" y="4.2" font-size="12" stroke="#000" stroke-width="0.2"><tspan font-size="10.5" stroke-width="0.05">2010</tspan>年<tspan font-size="10.5" stroke-width="0.05">5</tspan>月上旬</text>
<text transform="translate(67.1 442.2) rotate(-90)" x="-42 -36 -24 -12" y="4.2" font-size="12" stroke="#000" stroke-width="0.2"><tspan font-size="10.5" stroke-width="0.05">5</tspan>月中旬</text>
<text transform="translate(78.3 442.2) rotate(-90)" x="-42 -36 -24 -12" y="4.2" font-size="12" stroke="#000" stroke-width="0.2"><tspan font-size="10.5" stroke-width="0.05">5</tspan>月下旬</text>
<text transform="translate(89.4 442.2) rotate(-90)" x="-42 -36 -24 -12" y="4.2" font-size="12" stroke="#000" stroke-width="0.2"><tspan font-size="10.5" stroke-width="0.05">6</tspan>月上旬</text>
<text transform="translate(100.6 442.2) rotate(-90)" x="-42 -36 -24 -12" y="4.2" font-size="12" stroke="#000" stroke-width="0.2"><tspan font-size="10.5" stroke-width="0.05">6</tspan>月中旬</text>
<text transform="translate(111.7 442.2) rotate(-90)" x="-42 -36 -24 -12" y="4.2" font-size="12" stroke="#000" stroke-width="0.2"><tspan font-size="10.5" stroke-width="0.05">6</tspan>月下旬</text>
<text transform="translate(122.8 442.2) rotate(-90)" x="-42 -36 -24 -12" y="4.2" font-size="12" stroke="#000" stroke-width="0.2"><tspan font-size="10.5" stroke-width="0.05">7</tspan>月上旬</text>
<text transform="translate(134.0 442.2) rotate(-90)" x="-42 -36 -24 -12" y="4.2" font-size="12" stroke="#000" stroke-width="0.2"><tspan font-size="10.5" stroke-width="0.05">7</tspan>月中旬</text>
<text transform="translate(145.1 442.2) rotate(-90)" x="-42 -36 -24 -12" y="4.2" font-size="12" stroke="#000" stroke-width="0.2"><tspan font-size="10.5" stroke-width="0.05">7</tspan>月下旬</text>
<text transform="translate(156.3 442.2) rotate(-90)" x="-42 -36 -24 -12" y="4.2" font-size="12" stroke="#000" stroke-width="0.2"><tspan font-size="10.5" stroke-width="0.05">8</tspan>月上旬</text>
<text transform="translate(167.4 442.2) rotate(-90)" x="-42 -36 -24 -12" y="4.2" font-size="12" stroke="#000" stroke-width="0.2"><tspan font-size="10.5" stroke-width="0.05">8</tspan>月中旬</text>
<text transform="translate(178.6 442.2) rotate(-90)" x="-42 -36 -24 -12" y="4.2" font-size="12" stroke="#000" stroke-width="0.2"><tspan font-size="10.5" stroke-width="0.05">8</tspan>月下旬</text>
<text transform="translate(189.7 442.2) rotate(-90)" x="-42 -36 -24 -12" y="4.2" font-size="12" stroke="#000" stroke-width="0.2"><tspan font-size="10.5" stroke-width="0.05">9</tspan>月上旬</text>
<text transform="translate(200.9 442.2) rotate(-90)" x="-42 -36 -24 -12" y="4.2" font-size="12" stroke="#000" stroke-width="0.2"><tspan font-size="10.5" stroke-width="0.05">9</tspan>月中旬</text>
<text transform="translate(212.0 442.2) rotate(-90)" x="-42 -36 -24 -12" y="4.2" font-size="12" stroke="#000" stroke-width="0.2"><tspan font-size="10.5" stroke-width="0.05">9</tspan>月下旬</text>
<text transform="translate(223.2 442.2) rotate(-90)" x="-48 -42 -36 -24 -12" y="4.2" font-size="12" stroke="#000" stroke-width="0.2"><tspan font-size="10.5" stroke-width="0.05">10</tspan>月上旬</text>
<text transform="translate(234.3 442.2) rotate(-90)" x="-48 -42 -36 -24 -12" y="4.2" font-size="12" stroke="#000" stroke-width="0.2"><tspan font-size="10.5" stroke-width="0.05">10</tspan>月中旬</text>
<text transform="translate(245.5 442.2) rotate(-90)" x="-48 -42 -36 -24 -12" y="4.2" font-size="12" stroke="#000" stroke-width="0.2"><tspan font-size="10.5" stroke-width="0.05">10</tspan>月下旬</text>
<text transform="translate(256.6 442.2) rotate(-90)" x="-48 -42 -36 -24 -12" y="4.2" font-size="12" stroke="#000" stroke-width="0.2"><tspan font-size="10.5" stroke-width="0.05">11</tspan>月上旬</text>
<text transform="translate(267.7 442.2) rotate(-90)" x="-48 -42 -36 -24 -12" y="4.2" font-size="12" stroke="#000" stroke-width="0.2"><tspan font-size="10.5" stroke-width="0.05">11</tspan>月中旬</text>
<text transform="translate(278.9 442.2) rotate(-90)" x="-48 -42 -36 -24 -12" y="4.2" font-size="12" stroke="#000" stroke-width="0.2"><tspan font-size="10.5" stroke-width="0.05">11</tspan>月下旬</text>
<text transform="translate(290.0 442.2) rotate(-90)" x="-48 -42 -36 -24 -12" y="4.2" font-size="12" stroke="#000" stroke-width="0.2"><tspan font-size="10.5" stroke-width="0.05">12</tspan>月上旬</text>
<text transform="translate(301.2 442.2) rotate(-90)" x="-48 -42 -36 -24 -12" y="4.2" font-size="12" stroke="#000" stroke-width="0.2"><tspan font-size="10.5" stroke-width="0.05">12</tspan>月中旬</text>
<text transform="translate(312.3 442.2) rotate(-90)" x="-48 -42 -36 -24 -12" y="4.2" font-size="12" stroke="#000" stroke-width="0.2"><tspan font-size="10.5" stroke-width="0.05">12</tspan>月下旬</text>
<text transform="translate(323.5 442.2) rotate(-90)" x="-42 -36 -24 -12" y="4.2" font-size="12" stroke="#000" stroke-width="0.2"><tspan font-size="10.5" stroke-width="0.05">1</tspan>月上旬</text>
<text transform="translate(334.6 442.2) rotate(-90)" x="-42 -36 -24 -12" y="4.2" font-size="12" stroke="#000" stroke-width="0.2"><tspan font-size="10.5" stroke-width="0.05">1</tspan>月中旬</text>
<text transform="translate(345.8 442.2) rotate(-90)" x="-42 -36 -24 -12" y="4.2" font-size="12" stroke="#000" stroke-width="0.2"><tspan font-size="10.5" stroke-width="0.05">1</tspan>月下旬</text>
<text transform="translate(356.9 442.2) rotate(-90)" x="-42 -36 -24 -12" y="4.2" font-size="12" stroke="#000" stroke-width="0.2"><tspan font-size="10.5" stroke-width="0.05">2</tspan>月上旬</text>
<text transform="translate(368.1 442.2) rotate(-90)" x="-42 -36 -24 -12" y="4.2" font-size="12" stroke="#000" stroke-width="0.2"><tspan font-size="10.5" stroke-width="0.05">2</tspan>月中旬</text>
<text transform="translate(379.2 442.2) rotate(-90)" x="-42 -36 -24 -12" y="4.2" font-size="12" stroke="#000" stroke-width="0.2"><tspan font-size="10.5" stroke-width="0.05">2</tspan>月下旬</text>
<text transform="translate(390.4 442.2) rotate(-90)" x="-42 -36 -24 -12" y="4.2" font-size="12" stroke="#000" stroke-width="0.2"><tspan font-size="10.5" stroke-width="0.05">3</tspan>月上旬</text>
<text transform="translate(401.5 442.2) rotate(-90)" x="-42 -36 -24 -12" y="4.2" font-size="12" stroke="#000" stroke-width="0.2"><tspan font-size="10.5" stroke-width="0.05">3</tspan>月中旬</text>
<text transform="translate(412.6 442.2) rotate(-90)" x="-42 -36 -24 -12" y="4.2" font-size="12" stroke="#000" stroke-width="0.2"><tspan font-size="10.5" stroke-width="0.05">3</tspan>月下旬</text>
<text transform="translate(423.8 442.2) rotate(-90)" x="-42 -36 -24 -12" y="4.2" font-size="12" stroke="#000" stroke-width="0.2"><tspan font-size="10.5" stroke-width="0.05">4</tspan>月上旬</text>
<text transform="translate(434.9 442.2) rotate(-90)" x="-42 -36 -24 -12" y="4.2" font-size="12" stroke="#000" stroke-width="0.2"><tspan font-size="10.5" stroke-width="0.05">4</tspan>月中旬</text>
<text transform="translate(446.1 442.2) rotate(-90)" x="-42 -36 -24 -12" y="4.2" font-size="12" stroke="#000" stroke-width="0.2"><tspan font-size="10.5" stroke-width="0.05">4</tspan>月下旬</text>
<text transform="translate(457.2 442.2) rotate(-90)" x="-78 -72 -66 -60 -54 -42 -36 -24 -12" y="4.2" font-size="12" stroke="#000" stroke-width="0.2"><tspan font-size="10.5" stroke-width="0.05">2011</tspan>年<tspan font-size="10.5" stroke-width="0.05">5</tspan>月上旬</text>
<text transform="translate(468.4 442.2) rotate(-90)" x="-42 -36 -24 -12" y="4.2" font-size="12" stroke="#000" stroke-width="0.2"><tspan font-size="10.5" stroke-width="0.05">5</tspan>月中旬</text>
<text transform="translate(479.5 442.2) rotate(-90)" x="-42 -36 -24 -12" y="4.2" font-size="12" stroke="#000" stroke-width="0.2"><tspan font-size="10.5" stroke-width="0.05">5</tspan>月下旬</text>
<text transform="translate(490.7 442.2) rotate(-90)" x="-42 -36 -24 -12" y="4.2" font-size="12" stroke="#000" stroke-width="0.2"><tspan font-size="10.5" stroke-width="0.05">6</tspan>月上旬</text>
<text transform="translate(501.8 442.2) rotate(-90)" x="-42 -36 -24 -12" y="4.2" font-size="12" stroke="#000" stroke-width="0.2"><tspan font-size="10.5" stroke-width="0.05">6</tspan>月中旬</text>
<text transform="translate(513.0 442.2) rotate(-90)" x="-42 -36 -24 -12" y="4.2" font-size="12" stroke="#000" stroke-width="0.2"><tspan font-size="10.5" stroke-width="0.05">6</tspan>月下旬</text>
<text transform="translate(524.1 442.2) rotate(-90)" x="-42 -36 -24 -12" y="4.2" font-size="12" stroke="#000" stroke-width="0.2"><tspan font-size="10.5" stroke-width="0.05">7</tspan>月上旬</text>
<text transform="translate(535.3 442.2) rotate(-90)" x="-42 -36 -24 -12" y="4.2" font-size="12" stroke="#000" stroke-width="0.2"><tspan font-size="10.5" stroke-width="0.05">7</tspan>月中旬</text>
<text transform="translate(546.4 442.2) rotate(-90)" x="-42 -36 -24 -12" y="4.2" font-size="12" stroke="#000" stroke-width="0.2"><tspan font-size="10.5" stroke-width="0.05">7</tspan>月下旬</text>
<text transform="translate(557.5 442.2) rotate(-90)" x="-42 -36 -24 -12" y="4.2" font-size="12" stroke="#000" stroke-width="0.2"><tspan font-size="10.5" stroke-width="0.05">8</tspan>月上旬</text>
<text transform="translate(568.7 442.2) rotate(-90)" x="-42 -36 -24 -12" y="4.2" font-size="12" stroke="#000" stroke-width="0.2"><tspan font-size="10.5" stroke-width="0.05">8</tspan>月中旬</text>
<text transform="translate(579.8 442.2) rotate(-90)" x="-42 -36 -24 -12" y="4.2" font-size="12" stroke="#000" stroke-width="0.2"><tspan font-size="10.5" stroke-width="0.05">8</tspan>月下旬</text>
<text transform="translate(591.0 442.2) rotate(-90)" x="-42 -36 -24 -12" y="4.2" font-size="12" stroke="#000" stroke-width="0.2"><tspan font-size="10.5" stroke-width="0.05">9</tspan>月上旬</text>
<text transform="translate(602.1 442.2) rotate(-90)" x="-42 -36 -24 -12" y="4.2" font-size="12" stroke="#000" stroke-width="0.2"><tspan font-size="10.5" stroke-width="0.05">9</tspan>月中旬</text>
<text transform="translate(613.3 442.2) rotate(-90)" x="-42 -36 -24 -12" y="4.2" font-size="12" stroke="#000" stroke-width="0.2"><tspan font-size="10.5" stroke-width="0.05">9</tspan>月下旬</text>
<text transform="translate(624.4 442.2) rotate(-90)" x="-48 -42 -36 -24 -12" y="4.2" font-size="12" stroke="#000" stroke-width="0.2"><tspan font-size="10.5" stroke-width="0.05">10</tspan>月上旬</text>
<text transform="translate(635.6 442.2) rotate(-90)" x="-48 -42 -36 -24 -12" y="4.2" font-size="12" stroke="#000" stroke-width="0.2"><tspan font-size="10.5" stroke-width="0.05">10</tspan>月中旬</text>
<text transform="translate(646.7 442.2) rotate(-90)" x="-48 -42 -36 -24 -12" y="4.2" font-size="12" stroke="#000" stroke-width="0.2"><tspan font-size="10.5" stroke-width="0.05">10</tspan>月下旬</text>
<text transform="translate(657.9 442.2) rotate(-90)" x="-48 -42 -36 -24 -12" y="4.2" font-size="12" stroke="#000" stroke-width="0.2"><tspan font-size="10.5" stroke-width="0.05">11</tspan>月上旬</text>
<text transform="translate(669.0 442.2) rotate(-90)" x="-48 -42 -36 -24 -12" y="4.2" font-size="12" stroke="#000" stroke-width="0.2"><tspan font-size="10.5" stroke-width="0.05">11</tspan>月中旬</text>
<text transform="translate(680.1 442.2) rotate(-90)" x="-48 -42 -36 -24 -12" y="4.2" font-size="12" stroke="#000" stroke-width="0.2"><tspan font-size="10.5" stroke-width="0.05">11</tspan>月下旬</text>
<text transform="translate(691.3 442.2) rotate(-90)" x="-48 -42 -36 -24 -12" y="4.2" font-size="12" stroke="#000" stroke-width="0.2"><tspan font-size="10.5" stroke-width="0.05">12</tspan>月上旬</text>
<text transform="translate(702.4 442.2) rotate(-90)" x="-48 -42 -36 -24 -12" y="4.2" font-size="12" stroke="#000" stroke-width="0.2"><tspan font-size="10.5" stroke-width="0.05">12</tspan>月中旬</text>
<text transform="translate(713.6 442.2) rotate(-90)" x="-48 -42 -36 -24 -12" y="4.2" font-size="12" stroke="#000" stroke-width="0.2"><tspan font-size="10.5" stroke-width="0.05">12</tspan>月下旬</text>
<text transform="translate(724.7 442.2) rotate(-90)" x="-42 -36 -24 -12" y="4.2" font-size="12" stroke="#000" stroke-width="0.2"><tspan font-size="10.5" stroke-width="0.05">1</tspan>月上旬</text>
<text transform="translate(735.9 442.2) rotate(-90)" x="-42 -36 -24 -12" y="4.2" font-size="12" stroke="#000" stroke-width="0.2"><tspan font-size="10.5" stroke-width="0.05">1</tspan>月中旬</text>
<text transform="translate(747.0 442.2) rotate(-90)" x="-42 -36 -24 -12" y="4.2" font-size="12" stroke="#000" stroke-width="0.2"><tspan font-size="10.5" stroke-width="0.05">2</tspan>月上旬</text>
<text transform="translate(758.2 442.2) rotate(-90)" x="-42 -36 -24 -12" y="4.2" font-size="12" stroke="#000" stroke-width="0.2"><tspan font-size="10.5" stroke-width="0.05">2</tspan>月中旬</text>
<text transform="translate(769.3 442.2) rotate(-90)" x="-42 -36 -24 -12" y="4.2" font-size="12" stroke="#000" stroke-width="0.2"><tspan font-size="10.5" stroke-width="0.05">2</tspan>月下旬</text>
<text transform="translate(780.5 442.2) rotate(-90)" x="-42 -36 -24 -12" y="4.2" font-size="12" stroke="#000" stroke-width="0.2"><tspan font-size="10.5" stroke-width="0.05">3</tspan>月上旬</text>
<text transform="translate(791.6 442.2) rotate(-90)" x="-42 -36 -24 -12" y="4.2" font-size="12" stroke="#000" stroke-width="0.2"><tspan font-size="10.5" stroke-width="0.05">3</tspan>月中旬</text>
<text transform="translate(802.8 442.2) rotate(-90)" x="-42 -36 -24 -12" y="4.2" font-size="12" stroke="#000" stroke-width="0.2"><tspan font-size="10.5" stroke-width="0.05">3</tspan>月下旬</text>
<text transform="translate(813.9 442.2) rotate(-90)" x="-78 -72 -66 -60 -54 -42 -36 -24 -12" y="4.2" font-size="12" stroke="#000" stroke-width="0.2"><tspan font-size="10.5" stroke-width="0.05">2012</tspan>年<tspan font-size="10.5" stroke-width="0.05">4</tspan>月上旬</text>
<text transform="translate(825.0 442.2) rotate(-90)" x="-42 -36 -24 -12" y="4.2" font-size="12" stroke="#000" stroke-width="0.2"><tspan font-size="10.5" stroke-width="0.05">4</tspan>月中旬</text>
<text transform="translate(836.2 442.2) rotate(-90)" x="-78 -72 -66 -60 -54 -42 -36 -24 -12" y="4.2" font-size="12" stroke="#000" stroke-width="0.2"><tspan font-size="10.5" stroke-width="0.05">2012</tspan>年<tspan font-size="10.5" stroke-width="0.05">4</tspan>月下旬</text>
<text transform="translate(847.3 442.2) rotate(-90)" x="-78 -72 -66 -60 -54 -42 -36 -24 -12" y="4.2" font-size="12" stroke="#000" stroke-width="0.2"><tspan font-size="10.5" stroke-width="0.05">2012</tspan>年<tspan font-size="10.5" stroke-width="0.05">5</tspan>月上旬</text>
<polyline fill="none" stroke="#000080" stroke-width="1.2" points="56.5,453.8 67.6,441.5 78.8,437.7 89.9,436.7 101.1,430.3 112.2,428.0 123.4,364.5 134.5,344.4 145.7,317.3 156.8,390.5 168.0,396.8 179.1,417.8 190.3,408.8 201.4,437.1 212.5,415.7 223.7,419.9 234.8,429.6 246.0,424.9 257.1,397.6 268.3,407.0 279.4,408.6 290.6,439.4 301.7,434.6 312.9,423.8 324.0,426.9 335.2,433.6 346.3,423.8 357.4,339.8 368.6,457.7 379.7,433.6 390.9,434.6 402.0,410.5 413.2,432.8 424.3,434.6 435.5,432.8 446.6,425.9 457.8,421.7 468.9,401.3 480.1,362.5 491.2,326.1 502.3,371.0 513.5,306.7 524.6,343.3 535.8,404.5 546.9,443.6 558.1,429.2 569.2,422.6 580.4,411.3 591.5,423.4 602.7,426.5 613.8,454.0 624.9,431.3 636.1,452.9 647.2,473.7 658.4,472.5 669.5,466.0 680.7,448.6 691.8,443.2 703.0,428.2 714.1,417.4 725.3,412.6"/>
<use href="#mk" x="56.5" y="453.8"/>
<use href="#mk" x="67.6" y="441.5"/>
<use href="#mk" x="78.8" y="437.7"/>
<use href="#mk" x="89.9" y="436.7"/>
<use href="#mk" x="101.1" y="430.3"/>
<use href="#mk" x="112.2" y="428.0"/>
<use href="#mk" x="123.4" y="364.5"/>
<use href="#mk" x="134.5" y="344.4"/>
<use href="#mk" x="145.7" y="317.3"/>
<use href="#mk" x="156.8" y="390.5"/>
<use href="#mk" x="168.0" y="396.8"/>
<use href="#mk" x="179.1" y="417.8"/>
<use href="#mk" x="190.3" y="408.8"/>
<use href="#mk" x="201.4" y="437.1"/>
<use href="#mk" x="212.5" y="415.7"/>
<use href="#mk" x="223.7" y="419.9"/>
<use href="#mk" x="234.8" y="429.6"/>
<use href="#mk" x="246.0" y="424.9"/>
<use href="#mk" x="257.1" y="397.6"/>
<use href="#mk" x="268.3" y="407.0"/>
<use href="#mk" x="279.4" y="408.6"/>
<use href="#mk" x="290.6" y="439.4"/>
<use href="#mk" x="301.7" y="434.6"/>
<use href="#mk" x="312.9" y="423.8"/>
<use href="#mk" x="324.0" y="426.9"/>
<use href="#mk" x="335.2" y="433.6"/>
<use href="#mk" x="346.3" y="423.8"/>
<use href="#mk" x="357.4" y="339.8"/>
<use href="#mk" x="368.6" y="457.7"/>
<use href="#mk" x="379.7" y="433.6"/>
<use href="#mk" x="390.9" y="434.6"/>
<use href="#mk" x="402.0" y="410.5"/>
<use href="#mk" x="413.2" y="432.8"/>
<use href="#mk" x="424.3" y="434.6"/>
<use href="#mk" x="435.5" y="432.8"/>
<use href="#mk" x="446.6" y="425.9"/>
<use href="#mk" x="457.8" y="421.7"/>
<use href="#mk" x="468.9" y="401.3"/>
<use href="#mk" x="480.1" y="362.5"/>
<use href="#mk" x="491.2" y="326.1"/>
<use href="#mk" x="502.3" y="371.0"/>
<use href="#mk" x="513.5" y="306.7"/>
<use href="#mk" x="524.6" y="343.3"/>
<use href="#mk" x="535.8" y="404.5"/>
<use href="#mk" x="546.9" y="443.6"/>
<use href="#mk" x="558.1" y="429.2"/>
<use href="#mk" x="569.2" y="422.6"/>
<use href="#mk" x="580.4" y="411.3"/>
<use href="#mk" x="591.5" y="423.4"/>
<use href="#mk" x="602.7" y="426.5"/>
<use href="#mk" x="613.8" y="454.0"/>
<use href="#mk" x="624.9" y="431.3"/>
<use href="#mk" x="636.1" y="452.9"/>
<use href="#mk" x="647.2" y="473.7"/>
<use href="#mk" x="658.4" y="472.5"/>
<use href="#mk" x="669.5" y="466.0"/>
<use href="#mk" x="680.7" y="448.6"/>
<use href="#mk" x="691.8" y="443.2"/>
<use href="#mk" x="703.0" y="428.2"/>
<use href="#mk" x="714.1" y="417.4"/>
<use href="#mk" x="725.3" y="412.6"/>
<polyline fill="none" stroke="#000080" stroke-width="1.2" points="747.6,453.1 758.7,475.0 769.8,463.5 781.0,453.1 792.1,460.4 803.3,468.3 814.4,467.1 825.6,469.6 836.7,453.8 847.9,443.4"/>
<use href="#mk" x="747.6" y="453.1"/>
<use href="#mk" x="758.7" y="475.0"/>
<use href="#mk" x="769.8" y="463.5"/>
<use href="#mk" x="781.0" y="453.1"/>
<use href="#mk" x="792.1" y="460.4"/>
<use href="#mk" x="803.3" y="468.3"/>
<use href="#mk" x="814.4" y="467.1"/>
<use href="#mk" x="825.6" y="469.6"/>
<use href="#mk" x="836.7" y="453.8"/>
<use href="#mk" x="847.9" y="443.4"/>
<text x="297.0 305.0 313.0 321.0 329.0 345.0 353.0 361.0 369.0 377.0 393.0 409.0 425.0 441.0 457.0 473.0 489.0 505.0 521.0 537.0 553.0" y="287.8" font-size="16" fill="#000">2010－2012年猪肉价格旬度变化百分比</text>
<text x="719.5 726.5 733.5 740.5 747.5 761.5 768.5 782.5 796.5 812.1 819.1 825.7 831.5 840.1 845.5 852.5" y="367.0" font-size="14" fill="#ff0000">2012年5月上旬, -0.58</text>
<defs><pattern id="gd" width="2" height="2" patternUnits="userSpaceOnUse"><rect width="1" height="1" fill="#b4dab4"/><rect x="1" y="1" width="1" height="1" fill="#b4dab4"/></pattern><pattern id="gy" width="2" height="2" patternUnits="userSpaceOnUse"><rect width="1" height="1" fill="#b0b0b0"/><rect x="1" y="1" width="1" height="1" fill="#b0b0b0"/></pattern><pattern id="rd" width="2" height="2" patternUnits="userSpaceOnUse"><rect width="1" height="1" fill="#f9b0b0"/><rect x="1" y="1" width="1" height="1" fill="#f9b0b0"/></pattern><clipPath id="cc"><circle cx="196" cy="267" r="50"/></clipPath></defs>
<g clip-path="url(#cc)" shape-rendering="crispEdges">
<circle cx="196" cy="267" r="50" fill="url(#gd)"/>
<circle cx="208" cy="268" r="35" fill="#fff"/>
<path d="M219.2 215 L234 224 L188 288.5 L207 232.6 Z" fill="#fff"/>
<path d="M228.9 227 L250 227 L250 277 L244.5 279 Q220 289 188 288 Z" fill="url(#gd)"/>
<path d="M220.6 222 L226.5 224.6 L185 287.5 L183.4 286.8 Z" fill="url(#gd)"/>
<path d="M205.5 231.5 L210.2 235.2 L182.4 287 L180.8 286.2 Z" fill="url(#gd)"/>
</g>
<text x="124" y="280" font-size="19.7" font-weight="bold" fill="url(#gy)" font-family='"Liberation Serif","Noto Serif CJK SC",serif' textLength="157" lengthAdjust="spacingAndGlyphs">中国畜牧业信息网</text>
<text x="125.5" y="299.5" font-size="24" font-weight="bold" fill="url(#rd)" stroke="url(#rd)" stroke-width="1" font-family='"Liberation Sans",sans-serif' textLength="148" lengthAdjust="spacingAndGlyphs">www.caaa.cn</text>
<path d="M1.5 2.5 H866.5 V528.5 H1.5 Z" fill="none" stroke="#000" stroke-width="1"/>
<rect x="1" y="259" width="866" height="2" fill="#000"/>
<rect x="868" y="3" width="1" height="529" fill="url(#dz)"/>
<rect x="3" y="530" width="716" height="2" fill="url(#dz)"/>
<defs><linearGradient id="mt" x1="721" y1="0" x2="739" y2="0" spreadMethod="repeat" gradientUnits="userSpaceOnUse"><stop offset="0" stop-color="#9a9a9a"/><stop offset="0.5" stop-color="#f0f0f0"/><stop offset="1" stop-color="#9a9a9a"/></linearGradient><linearGradient id="tx" x1="0" y1="0" x2="0" y2="1"><stop offset="0" stop-color="#3a3a3a"/><stop offset="0.55" stop-color="#8a8a8a"/><stop offset="1" stop-color="#4a4a4a"/></linearGradient></defs>
<rect x="719" y="503" width="150" height="29" fill="#fff"/>
<rect x="721" y="505" width="147" height="27" fill="#000"/>
<rect x="721" y="507" width="116" height="25" fill="url(#mt)"/>
<text x="722" y="528" font-size="23" font-weight="bold" fill="url(#tx)" stroke="#3c3c3c" stroke-width="1.3" font-family='"Liberation Serif",serif' textLength="114" lengthAdjust="spacingAndGlyphs">1350135</text>
<text x="841" y="528" font-size="11" font-weight="bold" font-style="italic" fill="#b0b0b0" font-family='"Liberation Sans",sans-serif' textLength="26" lengthAdjust="spacingAndGlyphs">.com</text>
</svg>
</body></html>
